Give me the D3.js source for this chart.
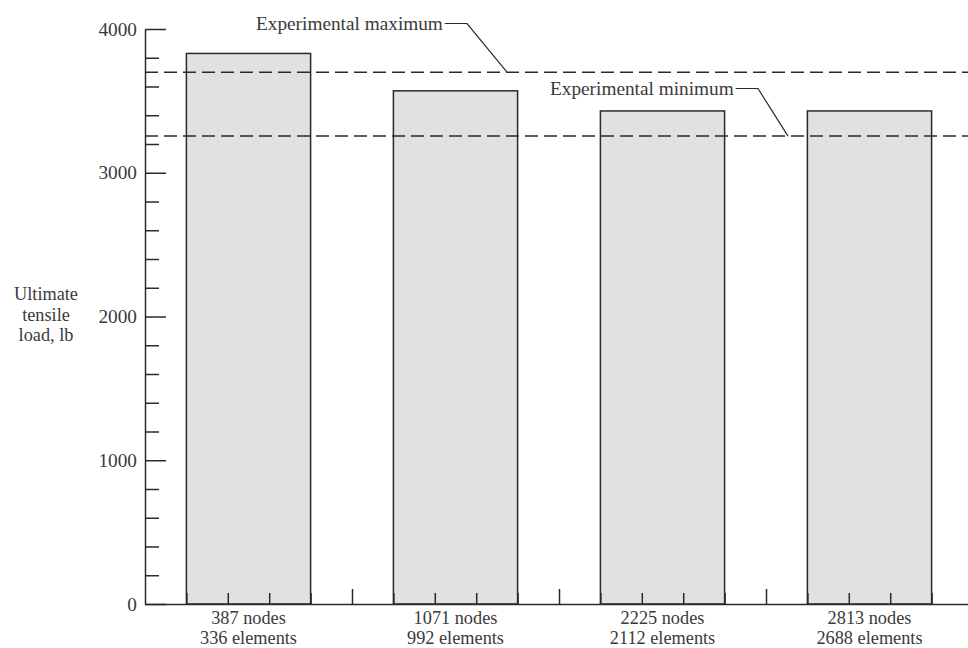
<!DOCTYPE html>
<html>
<head>
<meta charset="utf-8">
<script src="https://cdn.jsdelivr.net/npm/d3@7"></script>
<style>
  html, body { margin: 0; padding: 0; background: #fff; }
  svg { display: block; }
  svg text { font-family: "Liberation Serif", "Times New Roman", serif; fill: #3a3a3a; }
</style>
</head>
<body>
<svg id="chart" width="968" height="648"></svg>
<script>
// Mesh sizes of the finite-element models
const nodes = [387, 1071, 2225, 2813];
const elements = [336, 992, 2112, 2688];
// Predicted ultimate tensile load, lb
const loads = [3830, 3570, 3430, 3430];
// Experimental bounds, lb
const expMax = 3700;
const expMin = 3255;
const yMajorTicks = [0, 1000, 2000, 3000, 4000];
const yTitle = ["Ultimate", "tensile", "load, lb"];

const svg = d3.select("#chart");
const FONT = 19.3;
const SMALL_FONT = 18.3;
const FAMILY = "'Liberation Serif', 'Times New Roman', serif";
const ink = "#2a2a2a";

const x0 = 145, y0 = 604;
// Horizontal layout: each bar sits in a slot of 5 units, occupying units 1..4
const x = d3.scaleLinear().domain([0, 20]).range([x0, 973]);
const y = d3.scaleLinear().domain([0, 4000]).range([y0, 29]);

// Bars
svg.append("g").selectAll("rect")
  .data(loads)
  .join("rect")
  .attr("x", (d, i) => x(i * 5 + 1))
  .attr("width", (d, i) => x(i * 5 + 4) - x(i * 5 + 1))
  .attr("y", d => y(d))
  .attr("height", d => y(0) - y(d))
  .attr("fill", "#e1e1e1")
  .attr("stroke", ink)
  .attr("stroke-width", 1.5);

// Experimental bounds as dashed lines
svg.append("g").selectAll("line")
  .data([expMax, expMin])
  .join("line")
  .attr("x1", x0).attr("x2", 973)
  .attr("y1", d => y(d)).attr("y2", d => y(d))
  .attr("stroke", ink)
  .attr("stroke-width", 1.5)
  .attr("stroke-dasharray", "13,6");

// Y axis: major ticks with labels, minor ticks every 200
const yMinor = d3.range(0, 4001, 200).filter(v => v % 1000 !== 0);
svg.append("g").attr("transform", `translate(${x0},0)`)
  .call(d3.axisLeft(y).tickValues(yMajorTicks).tickSizeInner(-21).tickSizeOuter(0).tickPadding(8).tickFormat(d3.format("d")));
svg.append("g").attr("transform", `translate(${x0},0)`)
  .call(d3.axisLeft(y).tickValues(yMinor).tickSizeInner(-14).tickSizeOuter(0).tickFormat(""))
  .select(".domain").remove();

// X axis: tall ticks at slot boundaries, short ticks at each unit
const xMinor = d3.range(1, 20).filter(v => v % 5 !== 0);
svg.append("g").attr("transform", `translate(0,${y0})`)
  .call(d3.axisTop(x).tickValues([5, 10, 15, 20]).tickSizeInner(15).tickSizeOuter(0).tickFormat(""));
svg.append("g").attr("transform", `translate(0,${y0})`)
  .call(d3.axisTop(x).tickValues(xMinor).tickSizeInner(11).tickSizeOuter(0).tickFormat(""))
  .select(".domain").remove();

svg.selectAll(".domain, .tick line")
  .attr("stroke", ink).attr("stroke-width", 1.5);
svg.selectAll(".tick text")
  .attr("font-size", FONT)
  .attr("font-family", FAMILY)
  .attr("fill", "#3a3a3a");

// Category labels under each bar
const cat = svg.append("g").selectAll("text")
  .data(nodes)
  .join("text")
  .attr("x", (d, i) => x(i * 5 + 2.5))
  .attr("y", 623.5)
  .attr("text-anchor", "middle")
  .attr("font-family", FAMILY)
  .attr("font-size", SMALL_FONT);
cat.append("tspan").text(d => `${d} nodes`);
cat.append("tspan")
  .attr("x", (d, i) => x(i * 5 + 2.5))
  .attr("dy", 20.5)
  .text((d, i) => `${elements[i]} elements`);

// Y axis title, three stacked lines
svg.append("g").selectAll("text")
  .data(yTitle)
  .join("text")
  .attr("x", 46)
  .attr("y", (d, i) => 300 + i * 20.5)
  .attr("text-anchor", "middle")
  .attr("font-family", FAMILY)
  .attr("font-size", SMALL_FONT)
  .text(d => d);

// Annotations with leader lines
function annotate(label, value, tx, ty, legEnd, target) {
  const t = svg.append("text")
    .attr("x", tx).attr("y", ty)
    .attr("font-family", FAMILY)
    .attr("font-size", FONT)
    .text(label);
  const w = t.node().getComputedTextLength();
  const ly = ty - 6.5;
  svg.append("polyline")
    .attr("points", [[tx + w + 2, ly], [legEnd, ly], [target, y(value)]].join(" "))
    .attr("fill", "none")
    .attr("stroke", ink)
    .attr("stroke-width", 1.2);
}
annotate("Experimental maximum", expMax, 256, 30, 467, 507);
annotate("Experimental minimum", expMin, 550, 95, 758, 788);
</script>
</body>
</html>
